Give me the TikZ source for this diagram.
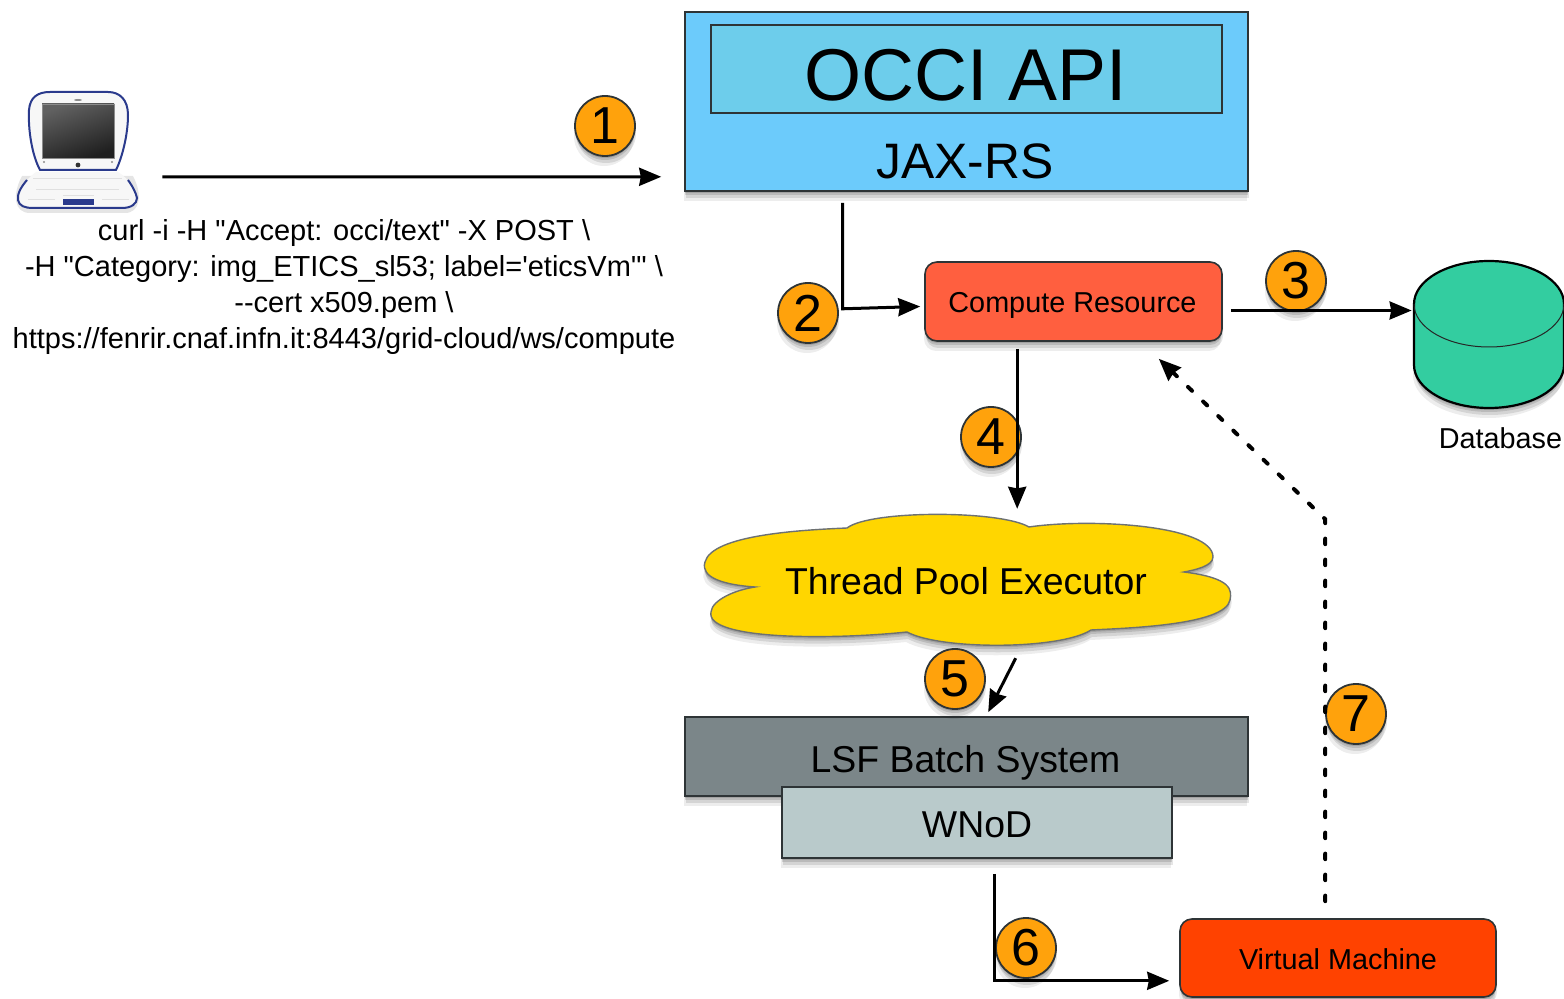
\documentclass[tikz,border=0pt]{standalone}
\usepackage{fontspec}
\newfontfamily\lib{Liberation Sans}
\usetikzlibrary{arrows.meta,shadows,calc}
\definecolor{apiblue}{HTML}{6CCBFB}
\definecolor{occiblue}{HTML}{6DCDEB}
\definecolor{compred}{HTML}{FF5F3F}
\definecolor{lsfgrey}{HTML}{7B8689}
\definecolor{wnodgrey}{HTML}{B9CACB}
\definecolor{vmred}{HTML}{FF4200}
\definecolor{dbgreen}{HTML}{33CDA0}
\definecolor{cloudyellow}{HTML}{FFD600}
\definecolor{badgeorange}{HTML}{FFA20C}
\definecolor{edge}{HTML}{2E3436}
\definecolor{laptopblue}{HTML}{2A3A8C}
\newcommand{\fsz}[1]{\fontsize{#1}{#1}\selectfont\lib}
\tikzset{
  softshadow/.style={drop shadow={shadow xshift=0pt,shadow yshift=-1pt,opacity=.13,fill=black},
                     drop shadow={shadow xshift=0pt,shadow yshift=-2pt,opacity=.12,fill=black},
                     drop shadow={shadow xshift=.5pt,shadow yshift=-3.5pt,opacity=.1,fill=black},
                     drop shadow={shadow xshift=-.5pt,shadow yshift=-5pt,opacity=.07,fill=black}},
  boxnode/.style={draw=edge,line width=.8pt,rectangle,inner sep=0pt,softshadow},
  roundnode/.style={boxnode,rounded corners=6pt},
  label14/.style={font=\fsz{14.4},text=black,inner sep=0pt},
  label18/.style={font=\fsz{18.7},text=black,inner sep=0pt},
  arr/.style={line width=1.5pt,draw=black,-{Stealth[length=11pt,width=9pt,inset=.8pt]}},
  badge/.style={circle,draw=edge,line width=.9pt,fill=badgeorange,minimum size=30pt,inner sep=0pt,
                font=\fsz{26},text=black,softshadow},
}
\begin{document}
\begin{tikzpicture}[x=0.5pt,y=-0.5pt]
\useasboundingbox (0,0) rectangle (1564,999);
\fill[white] (0,0) rectangle (1564,999);

% laptop
\node[minimum width=59.5pt,minimum height=59pt,inner sep=0pt] (laptop) at (77.5,149.5) {};
\fill[black,opacity=.10] (22,176) -- (133,176) .. controls (143,195) and (140,213) .. (125,213) -- (30,213) .. controls (14,213) and (12,195) .. (22,176) -- cycle;
\fill[white!97!black]
  (36,172) .. controls (25,180) and (17,192) .. (18,200) .. controls (19,206) and (25,208) .. (33,208)
  -- (122,208) .. controls (131,208) and (137,204) .. (137,198) .. controls (136,190) and (128,178) .. (118,172) -- cycle;
\draw[laptopblue,line width=1pt] (27,180) .. controls (21,187) and (17,194) .. (18,200) .. controls (19,206) and (25,208) .. (33,208)
  -- (122,208) .. controls (131,208) and (137,204) .. (137,198) .. controls (136,193) and (133,187) .. (128,180);
\draw[black!12,line width=.5pt] (33,179) -- (122,179) (36,190) -- (119,190) (28,200) -- (55,200) (102,200) -- (129,200) (63,196) -- (94,196);
\filldraw[fill=white!97!black,draw=laptopblue,line width=1pt]
  (40,170) .. controls (32,155) and (28,130) .. (29,110) .. controls (30,97) and (38,92) .. (50,92)
  -- (108,92) .. controls (120,92) and (128,100) .. (128,115) .. controls (128,135) and (122,158) .. (116,170) -- cycle;
\shade[top color=black!62,bottom color=black!88,shading angle=20,draw=black!45,line width=.3pt] (42,104) rectangle (114,158);
\fill[black!80] (78,165) circle (2.4);
\fill[black!45] (44,162) circle (1.1) (112,162) circle (1.1) (78,100) ellipse (4 and 1);
\fill[laptopblue] (63,199) rectangle (94,205);

% main boxes
\node[boxnode,fill=apiblue,minimum width=281.5pt,minimum height=89.5pt] (api) at (966.5,101.5) {};
\node[draw=edge,line width=.6pt,fill=occiblue,rectangle,inner sep=0pt,minimum width=255.5pt,minimum height=44pt] (occi) at (966.5,69) {};
\node[font=\fsz{36.7},text=black,inner sep=0pt] (occitext) at (965.5,75) {OCCI API};
\node[font=\fsz{24.9},text=black,inner sep=0pt] (jax) at (965,161.5) {JAX-RS};
\node[roundnode,fill=compred,minimum width=148.5pt,minimum height=39.5pt] (comp) at (1073.5,301.5) {};
\node[label14] (comptext) at (1072.5,305) {Compute Resource};

% database
\node[minimum width=75pt,minimum height=74pt,inner sep=0pt] (db) at (1489,335.5) {};
\filldraw[draw=black,line width=1.1pt,fill=dbgreen,softshadow]
  (1414,304) arc[start angle=180,end angle=0,x radius=37.5pt,y radius=21.5pt]
  -- (1564,365) arc[start angle=0,end angle=-180,x radius=37.5pt,y radius=21.5pt] -- cycle;
\draw[draw=black!85,line width=.5pt] (1414,304) arc[start angle=180,end angle=360,x radius=37.5pt,y radius=21.5pt];
\node[label14] (dblabel) at (1500.5,438) {Database};

% cloud
\filldraw[draw=edge!70,line width=.7pt,fill=cloudyellow,softshadow]
  (847,528) .. controls (870,510) and (1000,510) .. (1029,527)
  .. controls (1090,518) and (1213,525) .. (1213,557)
  .. controls (1213,566) and (1195,570) .. (1184,572)
  .. controls (1232,578) and (1232,590) .. (1230,600)
  .. controls (1225,625) and (1130,628) .. (1091,630)
  .. controls (1060,650) and (940,650) .. (907,632)
  .. controls (830,640) and (705,640) .. (711,612)
  .. controls (712,600) and (735,590) .. (755,587)
  .. controls (725,585) and (700,578) .. (705,562)
  .. controls (712,535) and (800,530) .. (847,528) -- cycle;
\node[label18] (pool) at (966,581) {Thread Pool Executor};

\node[boxnode,fill=lsfgrey,minimum width=281.5pt,minimum height=39.5pt] (lsf) at (966.5,756.5) {};
\node[label18] (lsftext) at (965.5,762.5) {LSF Batch System};
\node[boxnode,fill=wnodgrey,minimum width=195pt,minimum height=35.5pt] (wnod) at (977,822.5) {};
\node[label18] (wnodtext) at (977,825) {WNoD};
\node[roundnode,fill=vmred,minimum width=158pt,minimum height=39pt] (vm) at (1338,958) {};
\node[label14] (vmtext) at (1338,959) {Virtual Machine};

% command text
\node[align=center,font=\fontsize{14.5}{18}\selectfont\lib,text=black,inner sep=0pt] (curl) at (344,287) {curl -i -H "Accept: occi/text" -X POST \textbackslash\\
-H "Category: img\_ETICS\_sl53; label='eticsVm'" \textbackslash\\
-{}-cert x509.pem \textbackslash\\
https://fenrir.cnaf.infn.it:8443/grid-cloud/ws/compute};

% badges
\node[badge] (b1) at (605,126) {1};
\node[badge] (b2) at (808,313) {2};
\node[badge] (b3) at (1296,281) {3};
\node[badge] (b4) at (991,437) {4};
\node[badge] (b5) at (955,679) {5};
\node[badge] (b6) at (1026,948) {6};
\node[badge] (b7) at (1356,714) {7};

% connectors
\draw[arr] ($(laptop.south east)+(25,-32)$) -- ($(api.south west)+(-23,-15)$);
\draw[arr] ($(api.south west)+(158.5,11)$) -- ($(api.south west)+(158.5,117)$) -- ($(comp.west)+(-4,5)$);
\draw[arr] ($(comp.east)+(8,9)$) -- ($(db.west)+(-2,-25)$);
\draw[arr] ($(comp.south west)+(93,7)$) -- ($(comp.south west)+(93,167)$);
\draw[arr] ($(lsf.north west)+(331.5,-58)$) -- ($(lsf.north west)+(304,-4)$);
\draw[arr] ($(wnod.south west)+(213.5,15)$) |- ($(vm.south west)+(-10,-17)$);
\coordinate (bend) at ($(vm.north west)+(146,-399)$);
\draw[line width=2pt,draw=black,line cap=round,dash pattern=on 2.8pt off 7.7pt,-{Stealth[length=11pt,width=9pt,inset=.8pt]}] ($(vm.north west)+(146,-17)$) -- (bend) -- ($(comp.south east)+(-64,17)$);
\end{tikzpicture}
\end{document}
